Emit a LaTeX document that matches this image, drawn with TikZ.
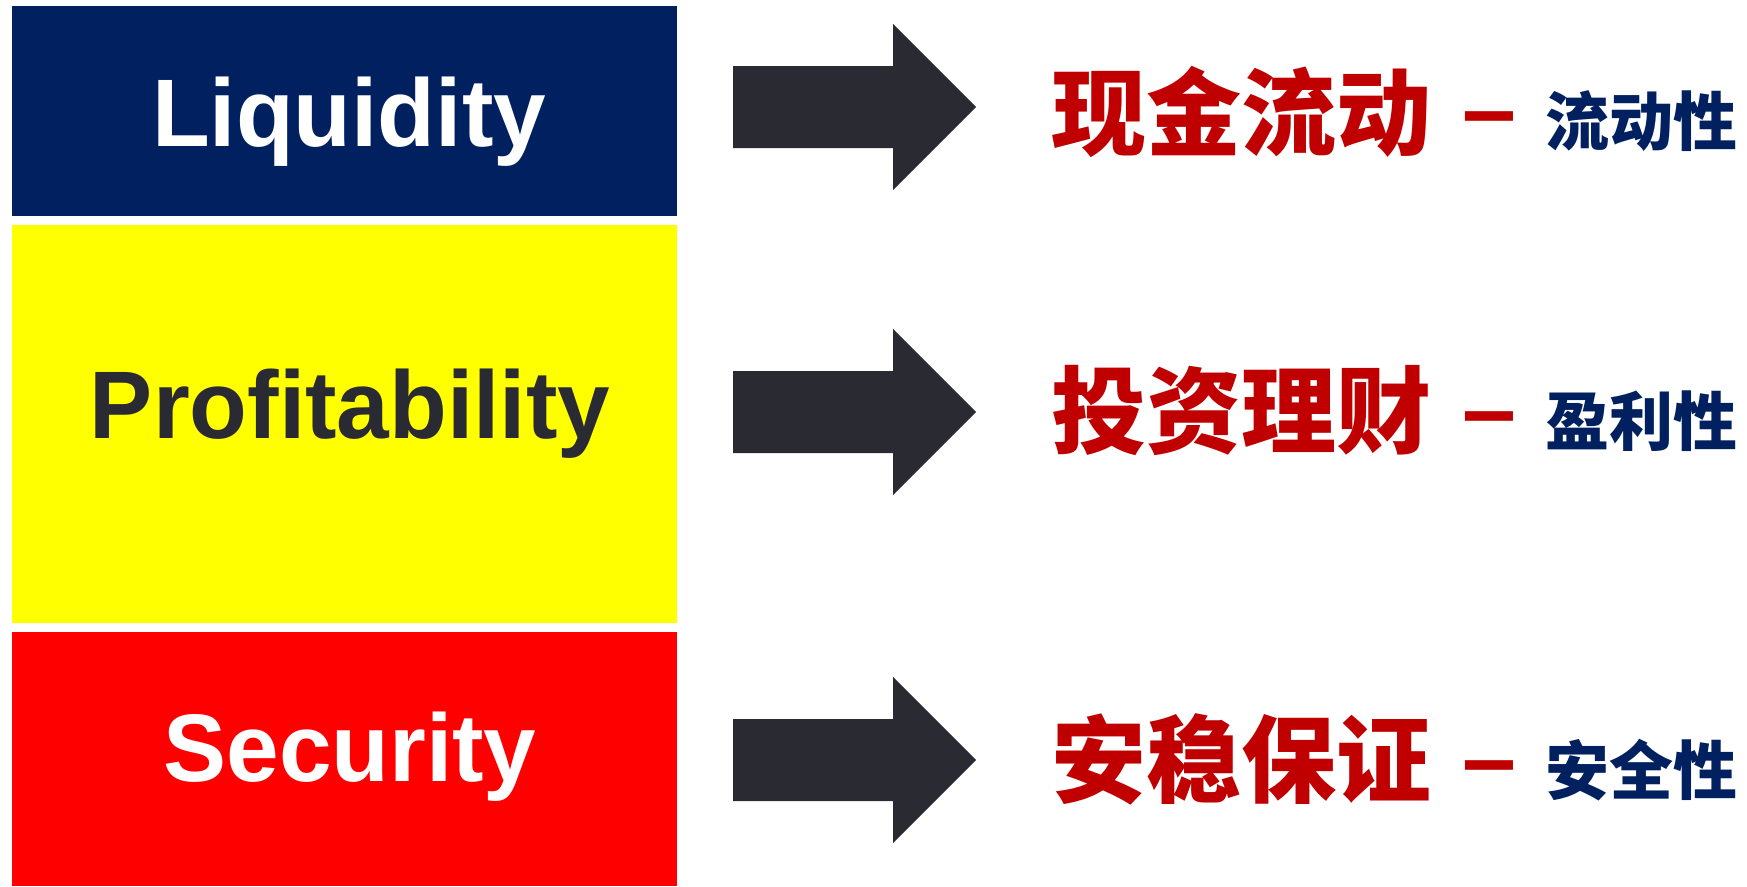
\documentclass[tikz,border=0pt]{standalone}
\usepackage{fontspec}
\setmainfont{Liberation Sans}
\newfontfamily\cjk{Noto Sans CJK SC}
\definecolor{navy}{HTML}{002060}
\definecolor{ylw}{HTML}{FFFF00}
\definecolor{rd}{HTML}{FF0000}
\definecolor{dark}{HTML}{2A2A33}
\definecolor{cjkred}{HTML}{C00000}
\tikzset{
  entxt/.style={font=\fontsize{96}{96}\selectfont\bfseries, anchor=base, inner sep=0pt, xscale=0.985},
  bigcjk/.style={font=\cjk\fontsize{95}{95}\selectfont\bfseries, text=cjkred, anchor=base west, inner sep=0pt},
  smallcjk/.style={font=\cjk\fontsize{64}{64}\selectfont\bfseries, text=navy, anchor=base west, inner sep=0pt},
  dashtxt/.style={font=\fontsize{97}{97}\selectfont\bfseries, text=cjkred, anchor=base west, inner sep=0pt},
  arrowfill/.style={fill=dark}
}
\begin{document}
\begin{tikzpicture}[x=1pt,y=-1pt]
\useasboundingbox (0,0) rectangle (1747,886);
\fill[white] (0,0) rectangle (1747,886);
% boxes
\fill[navy] (12,6) rectangle (677,216);
\fill[ylw] (12,225) rectangle (677,623);
\fill[rd] (12,632) rectangle (677,886);
\node[entxt, text=white] (liq) at (349,146) {Liquidity};
\node[entxt, text=dark] (prof) at (350,438) {Profitability};
\node[entxt, text=white] (sec) at (350,781) {Security};
% arrows
\foreach \c/\n in {107/a1, 412/a2, 760/a3}{
  \fill[arrowfill] (733,\c-41) -- (893,\c-41) -- (893,\c-83) -- (976,\c) -- (893,\c+83) -- (893,\c+41) -- (733,\c+41) -- cycle;
}
% texts
\node[bigcjk] (t1) at (1051,148) {现金流动};
\node[bigcjk] (t2) at (1051,446) {投资理财};
\node[bigcjk] (t3) at (1051,795) {安稳保证};
\node[dashtxt] (d1) at (1462,142) {–};
\node[dashtxt] (d2) at (1462,442) {–};
\node[dashtxt] (d3) at (1462,791) {–};
\node[smallcjk] (s1) at (1545,145) {流动性};
\node[smallcjk] (s2) at (1545,445) {盈利性};
\node[smallcjk] (s3) at (1545,794) {安全性};
\end{tikzpicture}
\end{document}
